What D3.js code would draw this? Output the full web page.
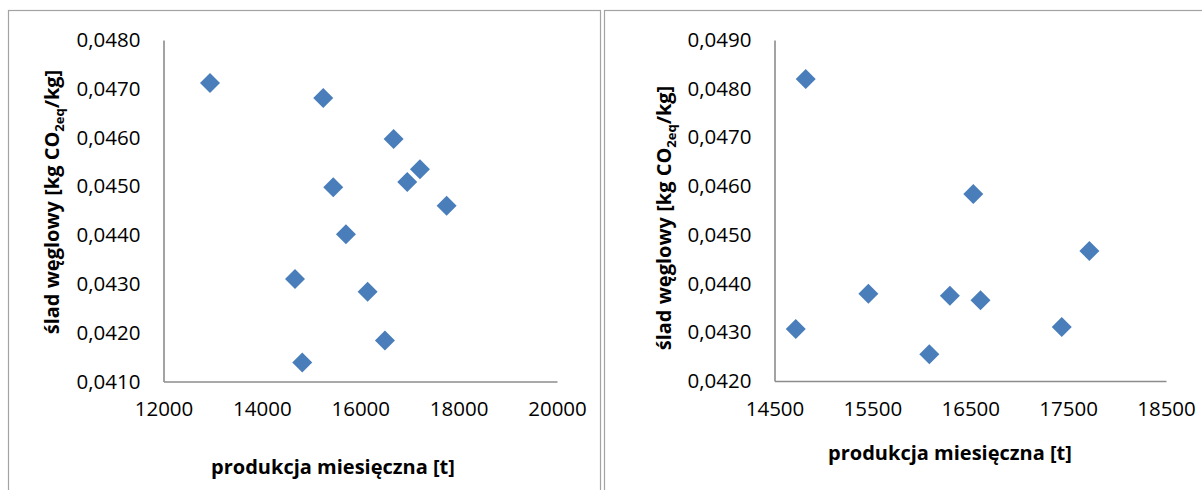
<!DOCTYPE html>
<html>
<head>
<meta charset="utf-8">
<script src="https://cdn.jsdelivr.net/npm/d3@7"></script>
<style>
  body { margin: 0; background: #fff; }
  #wrapper svg { display: block; font-family: "Open Sans", sans-serif; }
</style>
</head>
<body>
<div id="wrapper"></div>
<script>
// left panel
const leftProduction = [12945, 15248, 16679, 17213, 16955, 15451, 17756, 15709, 14673, 16150, 16502, 14821]
const leftFootprint = [0.04712, 0.04681, 0.04597, 0.04535, 0.04509, 0.04498, 0.04460, 0.04402, 0.04310, 0.04284, 0.04184, 0.04139]
const leftXTicks = [12000, 14000, 16000, 18000, 20000]
const leftYTicks = [0.0410, 0.0420, 0.0430, 0.0440, 0.0450, 0.0460, 0.0470, 0.0480]

// right panel
const rightProduction = [14819, 16531, 17717, 15459, 16292, 16605, 14717, 17435, 16082]
const rightFootprint = [0.04820, 0.04584, 0.04467, 0.04379, 0.04375, 0.04366, 0.04307, 0.04311, 0.04255]
const rightXTicks = [14500, 15500, 16500, 17500, 18500]
const rightYTicks = [0.0420, 0.0430, 0.0440, 0.0450, 0.0460, 0.0470, 0.0480, 0.0490]

const xTitle = "produkcja miesięczna [t]"
const yTitleMain = "ślad węglowy [kg CO"
const yTitleSub = "2eq"
const yTitleEnd = "/kg]"

const plLocale = d3.formatLocale({decimal: ",", thousands: " ", grouping: [3], currency: ["", " zł"]})
const yFormat = plLocale.format(".4f")
const xFormat = d3.format("d")

const wrapper = d3.select("#wrapper")
  .append("svg")
    .attr("width", 1202)
    .attr("height", 490)

wrapper.append("rect")
    .attr("width", 1202)
    .attr("height", 490)
    .attr("fill", "#fff")

function drawScatter(panel) {
  // frame around the chart
  wrapper.append("rect")
      .attr("x", panel.frame[0])
      .attr("y", panel.frame[1])
      .attr("width", panel.frame[2])
      .attr("height", 520)
      .attr("fill", "none")
      .attr("stroke", "#a3a3a3")
      .attr("stroke-width", 1.2)

  const xScale = d3.scaleLinear()
    .domain(d3.extent(panel.xTicks))
    .range([panel.left, panel.right])

  const yScale = d3.scaleLinear()
    .domain(d3.extent(panel.yTicks))
    .range([panel.bottom, panel.top])

  const data = panel.xs.map((x, i) => ({x: x, y: panel.ys[i]}))

  // axes without tick marks, like the excel original
  wrapper.append("g")
      .attr("transform", `translate(0, ${panel.bottom})`)
      .call(d3.axisBottom(xScale).tickValues(panel.xTicks).tickFormat(xFormat).tickSize(0).tickPadding(20))

  wrapper.append("g")
      .attr("transform", `translate(${panel.left}, 0)`)
      .call(d3.axisLeft(yScale).tickValues(panel.yTicks).tickFormat(yFormat).tickSize(0).tickPadding(23))

  wrapper.selectAll(".domain")
      .attr("stroke", "#8c8c8c")
      .attr("stroke-width", 1.6)

  wrapper.selectAll(".tick text")
      .attr("fill", "#000")
      .style("font-size", "20.5px")
      .style("font-family", "'Open Sans', sans-serif")

  // diamonds
  wrapper.append("g").selectAll("path")
    .data(data)
    .enter().append("path")
      .attr("d", d3.symbol(d3.symbolSquare, 200))
      .attr("transform", d => `translate(${xScale(d.x)}, ${yScale(d.y)}) rotate(45)`)
      .attr("fill", "#4a7ebb")

  wrapper.append("text")
      .attr("x", panel.xTitlePos[0])
      .attr("y", panel.xTitlePos[1])
      .attr("text-anchor", "middle")
      .style("font-size", "20px")
      .style("font-weight", "bold")
      .text(xTitle)

  const yTitle = wrapper.append("text")
      .attr("transform", `translate(${panel.yTitlePos[0]}, ${panel.yTitlePos[1]}) rotate(-90)`)
      .attr("text-anchor", "middle")
      .style("font-size", "20px")
      .style("font-weight", "bold")
  yTitle.append("tspan").text(yTitleMain)
  yTitle.append("tspan")
      .attr("dy", 5)
      .style("font-size", "13px")
      .text(yTitleSub)
  yTitle.append("tspan")
      .attr("dy", -5)
      .text(yTitleEnd)
}

drawScatter({
  frame: [8.5, 10.5, 592],
  left: 163.5, right: 557, top: 40, bottom: 381.5,
  xs: leftProduction, ys: leftFootprint,
  xTicks: leftXTicks, yTicks: leftYTicks,
  xTitlePos: [333, 474],
  yTitlePos: [59, 202],
})

drawScatter({
  frame: [604.5, 10.5, 620],
  left: 774.5, right: 1166, top: 40, bottom: 381,
  xs: rightProduction, ys: rightFootprint,
  xTitlePos: [950, 460],
  xTicks: rightXTicks, yTicks: rightYTicks,
  yTitlePos: [671, 218],
})
</script>
</body>
</html>
